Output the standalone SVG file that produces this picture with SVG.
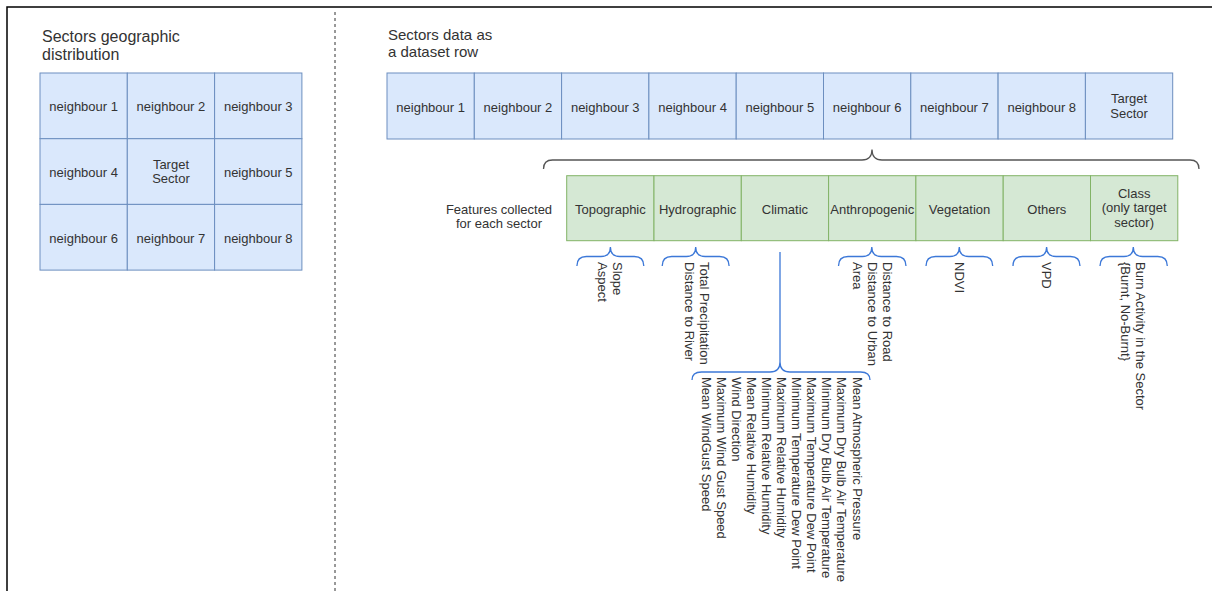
<svg xmlns="http://www.w3.org/2000/svg" width="1212" height="591" viewBox="0 0 1212 591">
  <style>
    text { font-family: "Liberation Sans", Arial, sans-serif; fill: #333333; }
    .title16 { font-size: 16px; }
    .title15 { font-size: 15px; }
    .lbl { font-size: 13px; text-anchor: middle; }
    .rot { font-size: 13px; }
    .blue { fill: #dae8fc; stroke: #6c8ebf; stroke-width: 1; }
    .green { fill: #d5e8d4; stroke: #82b366; stroke-width: 1; }
    .brace { fill: none; stroke: #3c78d8; stroke-width: 1.3; }
    .bigbrace { fill: none; stroke: #555555; stroke-width: 1.3; }
  </style>

  <rect width="1212" height="591" fill="#ffffff"/>
  <!-- frame -->
  <rect x="7" y="7" width="1230" height="620" fill="none" stroke="#000000" stroke-width="1.5"/>
  <!-- separator -->
  <line x1="335" y1="12" x2="335" y2="591" stroke="#333333" stroke-width="1" stroke-dasharray="3 3"/>

  <!-- left panel: sector grid -->
  <g id="title-geo">
    <text class="title16" x="42" y="41.5">Sectors geographic</text>
    <text class="title16" x="42" y="60">distribution</text>
  </g>
  <g id="grid-n1"><rect class="blue" x="40" y="73" width="87.3" height="65.7"/><text class="lbl" x="83.65" y="111.3">neighbour 1</text></g>
  <g id="grid-n2"><rect class="blue" x="127.3" y="73" width="87.3" height="65.7"/><text class="lbl" x="170.95" y="111.3">neighbour 2</text></g>
  <g id="grid-n3"><rect class="blue" x="214.6" y="73" width="87.3" height="65.7"/><text class="lbl" x="258.25" y="111.3">neighbour 3</text></g>
  <g id="grid-n4"><rect class="blue" x="40" y="138.7" width="87.3" height="65.7"/><text class="lbl" x="83.65" y="177">neighbour 4</text></g>
  <g id="grid-target"><rect class="blue" x="127.3" y="138.7" width="87.3" height="65.7"/><text class="lbl" x="170.95" y="168.5">Target</text><text class="lbl" x="170.95" y="183">Sector</text></g>
  <g id="grid-n5"><rect class="blue" x="214.6" y="138.7" width="87.3" height="65.7"/><text class="lbl" x="258.25" y="177">neighbour 5</text></g>
  <g id="grid-n6"><rect class="blue" x="40" y="204.4" width="87.3" height="65.7"/><text class="lbl" x="83.65" y="242.7">neighbour 6</text></g>
  <g id="grid-n7"><rect class="blue" x="127.3" y="204.4" width="87.3" height="65.7"/><text class="lbl" x="170.95" y="242.7">neighbour 7</text></g>
  <g id="grid-n8"><rect class="blue" x="214.6" y="204.4" width="87.3" height="65.7"/><text class="lbl" x="258.25" y="242.7">neighbour 8</text></g>

  <!-- right panel: dataset row -->
  <g id="title-row">
    <text class="title15" x="388" y="39.5">Sectors data as</text>
    <text class="title15" x="388" y="56.5">a dataset row</text>
  </g>
  <g id="row-n1"><rect class="blue" x="387" y="73" width="87.3" height="66"/><text class="lbl" x="430.65" y="111.5">neighbour 1</text></g>
  <g id="row-n2"><rect class="blue" x="474.3" y="73" width="87.3" height="66"/><text class="lbl" x="517.95" y="111.5">neighbour 2</text></g>
  <g id="row-n3"><rect class="blue" x="561.6" y="73" width="87.3" height="66"/><text class="lbl" x="605.25" y="111.5">neighbour 3</text></g>
  <g id="row-n4"><rect class="blue" x="648.9" y="73" width="87.3" height="66"/><text class="lbl" x="692.55" y="111.5">neighbour 4</text></g>
  <g id="row-n5"><rect class="blue" x="736.2" y="73" width="87.3" height="66"/><text class="lbl" x="779.85" y="111.5">neighbour 5</text></g>
  <g id="row-n6"><rect class="blue" x="823.5" y="73" width="87.3" height="66"/><text class="lbl" x="867.15" y="111.5">neighbour 6</text></g>
  <g id="row-n7"><rect class="blue" x="910.8" y="73" width="87.3" height="66"/><text class="lbl" x="954.45" y="111.5">neighbour 7</text></g>
  <g id="row-n8"><rect class="blue" x="998.1" y="73" width="87.3" height="66"/><text class="lbl" x="1041.75" y="111.5">neighbour 8</text></g>
  <g id="row-target"><rect class="blue" x="1085.4" y="73" width="87.3" height="66"/><text class="lbl" x="1129.05" y="103">Target</text><text class="lbl" x="1129.05" y="117.5">Sector</text></g>

  <!-- feature categories -->
  <g id="features-label">
    <text class="lbl" x="499" y="213.5">Features collected</text>
    <text class="lbl" x="499" y="227.5">for each sector</text>
  </g>
  <g id="cat-topographic"><rect class="green" x="566.7" y="175.7" width="87.3" height="65"/><text class="lbl" x="610.35" y="213.7">Topographic</text></g>
  <g id="cat-hydrographic"><rect class="green" x="654" y="175.7" width="87.3" height="65"/><text class="lbl" x="697.65" y="213.7">Hydrographic</text></g>
  <g id="cat-climatic"><rect class="green" x="741.3" y="175.7" width="87.3" height="65"/><text class="lbl" x="784.95" y="213.7">Climatic</text></g>
  <g id="cat-anthropogenic"><rect class="green" x="828.6" y="175.7" width="87.3" height="65"/><text class="lbl" x="872.25" y="213.7">Anthropogenic</text></g>
  <g id="cat-vegetation"><rect class="green" x="915.9" y="175.7" width="87.3" height="65"/><text class="lbl" x="959.55" y="213.7">Vegetation</text></g>
  <g id="cat-others"><rect class="green" x="1003.2" y="175.7" width="87.3" height="65"/><text class="lbl" x="1046.85" y="213.7">Others</text></g>
  <g id="cat-class"><rect class="green" x="1090.5" y="175.7" width="87.3" height="65"/><text class="lbl" x="1134.15" y="197.7">Class</text><text class="lbl" x="1134.15" y="212.2">(only target</text><text class="lbl" x="1134.15" y="226.7">sector)</text></g>

  <!-- brackets -->
  <g id="connectors">
    <path class="bigbrace" d="M543.5 169 Q543.5 160 552.5 160 L862 160 Q872 160 872 149.5 Q872 160 882 160 L1190 160 Q1199 160 1199 169"/>
    <path class="brace" d="M576.9 266 Q576.9 256.5 586.4 256.5 L600.9 256.5 Q610.4 256.5 610.4 247 Q610.4 256.5 619.9 256.5 L634.3 256.5 Q643.8 256.5 643.8 266"/>
    <path class="brace" d="M662.2 266 Q662.2 256.5 671.7 256.5 L686.2 256.5 Q695.7 256.5 695.7 247 Q695.7 256.5 705.2 256.5 L719.6 256.5 Q729.1 256.5 729.1 266"/>
    <path class="brace" d="M780 252 L780 362 Q780 372 770 372 L701.5 372 Q692 372 692 380 M780 362 Q780 372 790 372 L860.5 372 Q870 372 870 380"/>
    <path class="brace" d="M838.5 266 Q838.5 256.5 848 256.5 L862.3 256.5 Q871.8 256.5 871.8 247 Q871.8 256.5 881.3 256.5 L896.5 256.5 Q906 256.5 906 266"/>
    <path class="brace" d="M926 266 Q926 256.5 935.5 256.5 L949.8 256.5 Q959.3 256.5 959.3 247 Q959.3 256.5 968.8 256.5 L983.2 256.5 Q992.7 256.5 992.7 266"/>
    <path class="brace" d="M1013 266 Q1013 256.5 1022.5 256.5 L1037.1 256.5 Q1046.6 256.5 1046.6 247 Q1046.6 256.5 1056.1 256.5 L1070.5 256.5 Q1080 256.5 1080 266"/>
    <path class="brace" d="M1100 266 Q1100 256.5 1109.5 256.5 L1123.8 256.5 Q1133.3 256.5 1133.3 247 Q1133.3 256.5 1142.8 256.5 L1157.8 256.5 Q1167.3 256.5 1167.3 266"/>
  </g>

  <!-- feature lists, written top to bottom -->
  <g id="list-topographic">
    <text class="rot" transform="translate(613,262) rotate(90)"><tspan x="0" y="0">Slope</tspan><tspan x="0" y="15">Aspect</tspan></text>
  </g>
  <g id="list-hydrographic">
    <text class="rot" transform="translate(700,262) rotate(90)"><tspan x="0" y="0">Total Precipitation</tspan><tspan x="0" y="15">Distance to River</tspan></text>
  </g>
  <g id="list-climatic">
    <text class="rot" transform="translate(852.5,377) rotate(90)">
      <tspan x="0" y="0">Mean Atmospheric Pressure</tspan>
      <tspan x="0" y="15.1">Maximum Dry Bulb Air Temperature</tspan>
      <tspan x="0" y="30.2">Minimum Dry Bulb Air Temperature</tspan>
      <tspan x="0" y="45.3">Maximum Temperature Dew Point</tspan>
      <tspan x="0" y="60.4">Minimum Temperature Dew Point</tspan>
      <tspan x="0" y="75.5">Maximum Relative Humidity</tspan>
      <tspan x="0" y="90.6">Minimum Relative Humidity</tspan>
      <tspan x="0" y="105.7">Mean Relative Humidity</tspan>
      <tspan x="0" y="120.8">Wind Direction</tspan>
      <tspan x="0" y="135.9">Maximum Wind Gust Speed</tspan>
      <tspan x="0" y="151">Mean WindGust Speed</tspan>
    </text>
  </g>
  <g id="list-anthropogenic">
    <text class="rot" transform="translate(882.5,262) rotate(90)"><tspan x="0" y="0">Distance to Road</tspan><tspan x="0" y="15">Distance to Urban</tspan><tspan x="0" y="30">Area</tspan></text>
  </g>
  <g id="list-vegetation">
    <text class="rot" transform="translate(954.5,262) rotate(90)">NDVI</text>
  </g>
  <g id="list-others">
    <text class="rot" transform="translate(1041.7,262) rotate(90)">VPD</text>
  </g>
  <g id="list-class">
    <text class="rot" transform="translate(1136,262) rotate(90)"><tspan x="0" y="0">Burn Activity in the Sector</tspan><tspan x="0" y="15">{Burnt, No-Burnt}</tspan></text>
  </g>
</svg>
